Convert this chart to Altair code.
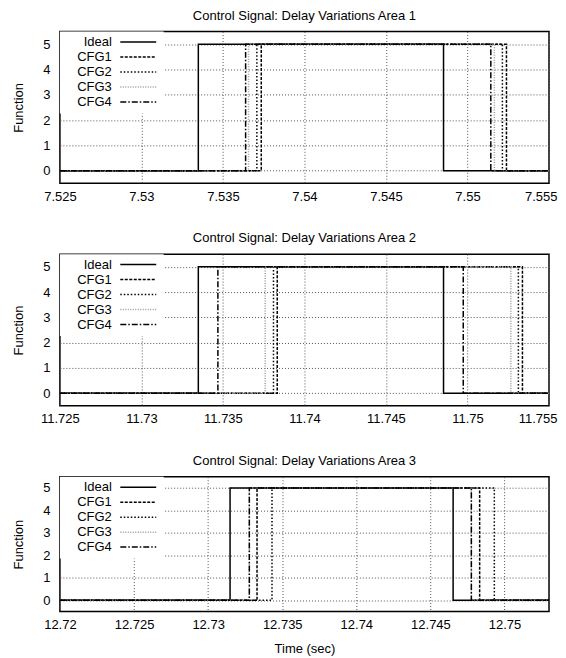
import altair as alt
import pandas as pd

series = ["Ideal", "CFG1", "CFG2", "CFG3", "CFG4"]
panel_titles = [
    "Control Signal: Delay Variations Area 1",
    "Control Signal: Delay Variations Area 2",
    "Control Signal: Delay Variations Area 3",
]
x_domains = [[7.525, 7.555], [11.725, 11.755], [12.72, 12.753]]
x_ticks = [
    [7.525, 7.53, 7.535, 7.54, 7.545, 7.55, 7.555],
    [11.725, 11.73, 11.735, 11.74, 11.745, 11.75, 11.755],
    [12.72, 12.725, 12.73, 12.735, 12.74, 12.745, 12.75],
]
# switch-on / switch-off times per series (Ideal, CFG1..CFG4)
rise_times = [
    [7.53349, 7.53735, 7.53708, 7.53657, 7.53639],
    [11.73349, 11.73833, 11.73810, 11.73759, 11.73469],
    [12.73148, 12.73330, 12.73431, 12.73278, 12.73278],
]
fall_times = [
    [7.54853, 7.55239, 7.55214, 7.55165, 7.55143],
    [11.74853, 11.75337, 11.75312, 11.75266, 11.74974],
    [12.74653, 12.74832, 12.74931, 12.74776, 12.74776],
]
low_level = 0
high_level = 5
y_ticks = [0, 1, 2, 3, 4, 5]

colors = ["black", "black", "black", "#9a9a9a", "black"]
dashes = [[1, 0], [3, 1.5], [1.5, 2], [1, 1.5], [6, 2, 1.5, 2]]

FONT = "Liberation Sans"


def panel(i, heights):
    rows = []
    for s, r, f in zip(series, rise_times[i], fall_times[i]):
        rows += [
            {"t": x_domains[i][0], "v": low_level, "s": s},
            {"t": r, "v": high_level, "s": s},
            {"t": f, "v": low_level, "s": s},
            {"t": x_domains[i][1], "v": low_level, "s": s},
        ]
    df = pd.DataFrame(rows)
    last = i == 2
    legend = alt.Legend(
        orient="top-left", offset=0, title=None,
        symbolType="M-3.6,0H3.6", symbolSize=100, symbolStrokeWidth=1.5,
        labelAlign="right", labelOffset={"expr": "-33"}, symbolOffset=68,
        fillColor="white", padding=4, labelFontSize=13, labelFont=FONT,
        rowPadding=1, labelColor="black", labelBaseline="middle",
    )
    edge_test = f"datum.value >= {x_domains[i][1]}"
    return alt.Chart(df, title=alt.TitleParams(
        panel_titles[i], fontSize=13, font=FONT, fontWeight="normal",
        color="black", offset=9)).mark_line(
        interpolate="step-after", strokeWidth=1.5, clip=True
    ).encode(
        x=alt.X("t:Q", scale=alt.Scale(domain=x_domains[i], nice=False, zero=False),
                axis=alt.Axis(
                    values=x_ticks[i], format="~g", labelFlush=False,
                    labelAlign={"condition": {"test": edge_test, "value": "right"}, "value": "center"},
                    labelOffset={"condition": {"test": edge_test, "value": 8}, "value": 0},
                    title="Time (sec)" if last else None)),
        y=alt.Y("v:Q", scale=alt.Scale(domain=[-0.5, 5.5], nice=False),
                axis=alt.Axis(values=y_ticks, title="Function")),
        color=alt.Color("s:N", scale=alt.Scale(domain=series, range=colors), legend=legend),
        strokeDash=alt.StrokeDash("s:N", scale=alt.Scale(domain=series, range=dashes), legend=legend),
    ).properties(width=490, height=heights)


chart = alt.vconcat(
    panel(0, 152), panel(1, 152), panel(2, 135), spacing=27
).resolve_scale(
    x="independent", y="independent", color="independent", strokeDash="independent"
).resolve_legend(color="independent", strokeDash="independent").configure(
    padding={"left": 4, "top": 0, "right": 0, "bottom": 0},
).configure_view(
    stroke="black", strokeWidth=1.5
).configure_axis(
    domain=False, ticks=False, tickSize=0, labelPadding=7,
    labelFont=FONT, labelFontSize=13, labelColor="black",
    titleFont=FONT, titleFontSize=13, titleFontWeight="normal", titleColor="black",
    gridColor="#555", gridDash=[1, 2], gridWidth=1, gridOpacity=1,
).configure_axisY(
    labelPadding=10, titlePadding=17
).configure_axisX(
    titlePadding=11
)

chart.save("out.html", embed_options={"renderer": "svg", "actions": False})
